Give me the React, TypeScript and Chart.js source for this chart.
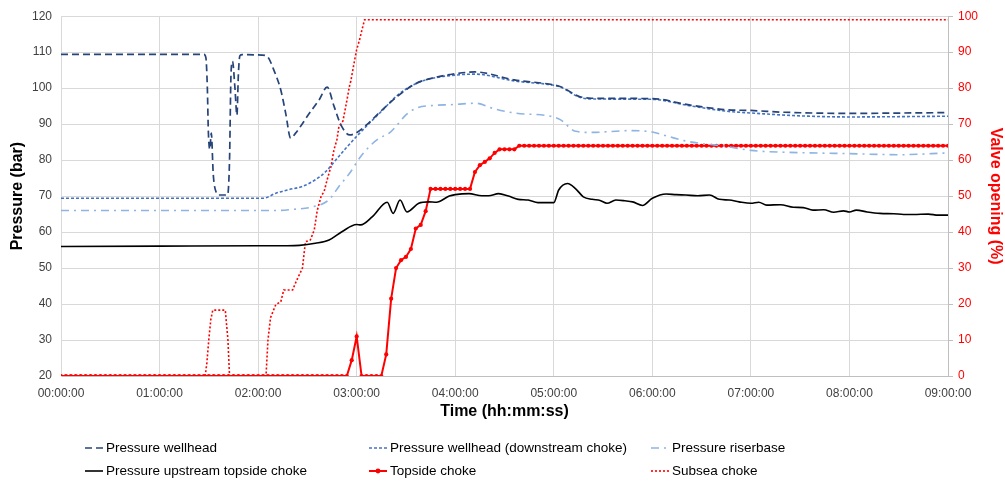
import { useEffect, useRef } from "react";
import { Chart, registerables } from "chart.js";

Chart.register(...registerables);

// ---- data (time in hours) ----
const timeTickLabels = [
  "00:00:00", "01:00:00", "02:00:00", "03:00:00", "04:00:00",
  "05:00:00", "06:00:00", "07:00:00", "08:00:00", "09:00:00",
];

const wellheadTime = [
  0, 1.45, 1.47, 1.485, 1.495, 1.51, 1.525, 1.545, 1.575, 1.6, 1.69, 1.71, 1.725,
  1.74, 1.765, 1.785, 1.8, 1.815, 1.84, 2.04, 2.1, 2.16, 2.23, 2.28, 2.33, 2.38,
  2.52, 2.62, 2.7, 2.77, 2.84, 2.93, 2.99, 3.1, 3.26, 3.43, 3.61, 3.78, 3.95, 4.2,
  4.6, 5.0, 5.07, 5.26, 5.38, 6.0, 6.36, 6.75, 7.0, 7.34, 8.0, 9.0,
];
const wellheadPressure = [
  109.4, 109.4, 108.5, 100, 88, 83, 87.5, 76, 71, 70.3, 70.3, 80, 104,
  107.5, 100, 92.5, 104, 109, 109.3, 109.2, 108.6, 105, 99.5, 93, 86.1, 87.5,
  93, 96.8, 100.3, 95, 89.8, 87, 87.5, 89.8, 94, 98.1, 101.4, 102.9, 103.8, 104.5,
  102.3, 100.9, 100.4, 97.7, 97.2, 97.1, 95.4, 94, 93.8, 93.3, 93, 93.2,
];

const downstreamTime = [
  0, 2.05, 2.18, 2.31, 2.45, 2.59, 2.69, 2.79, 2.89, 3.0, 3.13, 3.26, 3.4, 3.61,
  3.78, 3.95, 4.2, 4.6, 5.0, 5.07, 5.26, 5.38, 6.0, 6.36, 6.75, 7.0, 7.5, 8.0, 9.0,
];
const downstreamPressure = [
  69.4, 69.4, 70.8, 71.8, 72.7, 74.7, 76.9, 80.1, 83.3, 86.6, 90.3, 93.8, 97.7, 101.4,
  102.8, 103.5, 103.9, 102.0, 100.8, 100.3, 97.5, 97.0, 96.9, 95.2, 93.6, 93.1, 92.3, 92.0, 92.2,
];

const riserbaseTime = [
  0, 2.2, 2.35, 2.55, 2.72, 2.82, 2.93, 3.03, 3.13, 3.23, 3.33, 3.4, 3.5, 3.61, 3.78,
  3.95, 4.21, 4.4, 4.6, 5.0, 5.07, 5.22, 5.38, 5.77, 6.0, 6.16, 6.36, 6.75, 7.0, 7.34,
  8.0, 8.5, 9.0,
];
const riserbasePressure = [
  66, 66, 66.3, 67, 69, 72.7, 76.4, 80.6, 83.8, 86.1, 87.5, 89.4, 92.6, 94.5, 95.2,
  95.4, 95.8, 94.2, 93.1, 92, 91.2, 88, 87.7, 88.2, 87.8, 86.6, 85.2, 83.8, 82.7, 82.2,
  81.8, 81.5, 82,
];

const upstreamTime = [
  0, 1.0, 2.0, 2.3, 2.42, 2.58, 2.72, 2.85, 3.0, 3.04, 3.16, 3.31, 3.37, 3.44, 3.51,
  3.63, 3.73, 3.81, 3.84, 3.94, 4.0, 4.14, 4.27, 4.34, 4.44, 4.54, 4.64, 4.74, 4.84,
  5.0, 5.05, 5.14, 5.22, 5.3, 5.39, 5.47, 5.54, 5.63, 5.72, 5.8, 5.9, 6.0, 6.14, 6.24,
  6.34, 6.46, 6.58, 6.68, 6.78, 6.88, 7.0, 7.08, 7.16, 7.3, 7.43, 7.53, 7.63, 7.74,
  7.84, 7.94, 8.0, 8.07, 8.18, 8.31, 8.45, 8.55, 8.65, 8.8, 8.9, 9.0,
];
const upstreamPressure = [
  56, 56.1, 56.2, 56.2, 56.3, 56.9, 57.8, 60.1, 62.1, 62, 64.3, 68.3, 65.2, 68.9, 65.6,
  68, 68.4, 68.3, 68.5, 70, 70.4, 70.7, 70.1, 70.1, 70.7, 70, 69.1, 68.9, 68.2,
  68.2, 71.7, 73.5, 72.1, 69.8, 69.1, 68.8, 68, 68.9, 68.7, 68.4, 67.4, 69.4, 70.6, 70.4,
  70.3, 70.1, 70.3, 69.1, 68.9, 68.4, 68, 68.3, 67.5, 67.6, 66.9, 66.8, 66.1, 66.2,
  65.5, 65.9, 65.6, 66.1, 65.6, 65.2, 65.1, 64.9, 64.9, 65.0, 64.7, 64.7,
];

// Topside choke is logged every 3 minutes
const topsideSampleHours = 0.05;
const topsideOpening = [
  0, 0, 0, 0, 0, 0, 0, 0, 0, 0, 0, 0, 0, 0, 0, 0, 0, 0, 0, 0,
  0, 0, 0, 0, 0, 0, 0, 0, 0, 0, 0, 0, 0, 0, 0, 0, 0, 0, 0, 0,
  0, 0, 0, 0, 0, 0, 0, 0, 0, 0, 0, 0, 0, 0, 0, 0, 0, 0, 0, 4.4,
  11, 0, 0, 0, 0, 0, 6, 21.5, 30, 32.2, 33.1, 35.3, 41, 42, 45.8, 52, 52, 52, 52, 52,
  52, 52, 52, 52, 56.7, 58.6, 59.5, 60.5, 62, 63, 63, 63, 63, 64, 64, 64, 64, 64, 64, 64,
  64, 64, 64, 64, 64, 64, 64, 64, 64, 64, 64, 64, 64, 64, 64, 64, 64, 64, 64, 64,
  64, 64, 64, 64, 64, 64, 64, 64, 64, 64, 64, 64, 64, 64, 64, 64, 64, 64, 64, 64,
  64, 64, 64, 64, 64, 64, 64, 64, 64, 64, 64, 64, 64, 64, 64, 64, 64, 64, 64, 64,
  64, 64, 64, 64, 64, 64, 64, 64, 64, 64, 64, 64, 64, 64, 64, 64, 64, 64, 64, 64,
  64,
];

const subseaTime = [
  0, 1.463, 1.48, 1.5, 1.52, 1.54, 1.667, 1.694, 1.71, 2.08, 2.1, 2.126, 2.18, 2.23,
  2.26, 2.35, 2.39, 2.45, 2.48, 2.53, 2.57, 2.6, 2.64, 2.67, 2.7, 2.74, 2.77, 2.8,
  2.82, 2.86, 2.89, 2.93, 2.94, 2.98, 3.0, 3.03, 3.05, 3.08, 9.0,
];
const subseaOpening = [
  0, 0, 3.7, 10.2, 15.7, 18.3, 18.3, 10, 0, 0, 10, 16.2, 19.9, 20.6,
  23.9, 23.9, 26.5, 30, 37.3, 37.8, 40.6, 46, 50, 51.3, 54.5, 58.3, 62.9, 65.7,
  69.4, 70.8, 75, 81, 81.9, 87.9, 90.7, 93.5, 95.8, 99, 99,
];

const seriesNames = [
  "Pressure wellhead",
  "Pressure wellhead (downstream choke)",
  "Pressure riserbase",
  "Pressure upstream topside choke",
  "Topside choke",
  "Subsea choke",
];

const pair = (t: number[], v: number[]) => t.map((x, i) => ({ x, y: v[i] }));

const FONT = "'Liberation Sans', Arial, sans-serif";
const TICK_COLOR = "#404040";

// Legend laid out in three fixed columns below the axis title
const columnLegend = {
  id: "columnLegend",
  afterDraw(chart: any) {
    const ctx = chart.ctx as CanvasRenderingContext2D;
    const colX = [85, 369, 651];
    const rowY = [448, 471];
    const sampleW = 18;
    ctx.save();
    ctx.font = `13.5px ${FONT}`;
    ctx.textBaseline = "middle";
    ctx.fillStyle = "#000";
    chart.data.datasets.forEach((ds: any, i: number) => {
      const x = colX[i % 3];
      const y = rowY[Math.floor(i / 3)];
      ctx.save();
      ctx.strokeStyle = ds.borderColor;
      ctx.lineWidth = ds.borderWidth;
      ctx.setLineDash(ds.borderDash || []);
      ctx.beginPath();
      ctx.moveTo(x, y);
      ctx.lineTo(x + sampleW, y);
      ctx.stroke();
      if (ds.pointRadius > 0) {
        ctx.setLineDash([]);
        ctx.fillStyle = ds.borderColor;
        ctx.beginPath();
        ctx.arc(x + sampleW / 2, y, ds.pointRadius + 0.3, 0, Math.PI * 2);
        ctx.fill();
      }
      ctx.restore();
      ctx.fillText(ds.label, x + sampleW + 3, y);
    });
    ctx.restore();
  },
};

export default function App() {
  const canvasRef = useRef<HTMLCanvasElement | null>(null);

  useEffect(() => {
    if (!canvasRef.current) return;
    Chart.defaults.font.family = FONT;

    const chart = new Chart(canvasRef.current, {
      type: "line",
      data: {
        datasets: [
          {
            label: seriesNames[0],
            data: pair(wellheadTime, wellheadPressure),
            borderColor: "#264478",
            borderWidth: 1.7,
            borderDash: [7, 4],
            pointRadius: 0,
            cubicInterpolationMode: "monotone",
            yAxisID: "y",
          },
          {
            label: seriesNames[1],
            data: pair(downstreamTime, downstreamPressure),
            borderColor: "#4472c4",
            borderWidth: 1.6,
            borderDash: [3, 2],
            pointRadius: 0,
            cubicInterpolationMode: "monotone",
            yAxisID: "y",
          },
          {
            label: seriesNames[2],
            data: pair(riserbaseTime, riserbasePressure),
            borderColor: "#8eb4e3",
            borderWidth: 1.6,
            borderDash: [8, 5, 2, 5],
            pointRadius: 0,
            cubicInterpolationMode: "monotone",
            yAxisID: "y",
          },
          {
            label: seriesNames[3],
            data: pair(upstreamTime, upstreamPressure),
            borderColor: "#000000",
            borderWidth: 1.6,
            pointRadius: 0,
            cubicInterpolationMode: "monotone",
            yAxisID: "y",
          },
          {
            label: seriesNames[4],
            data: topsideOpening.map((v, i) => ({ x: i * topsideSampleHours, y: v })),
            borderColor: "#ff0000",
            backgroundColor: "#ff0000",
            borderWidth: 2,
            pointRadius: 2.1,
            pointBorderWidth: 0,
            pointBackgroundColor: "#ff0000",
            yAxisID: "y1",
          },
          {
            label: seriesNames[5],
            data: pair(subseaTime, subseaOpening),
            borderColor: "#ff0000",
            borderWidth: 1.6,
            borderDash: [2, 2],
            pointRadius: 0,
            yAxisID: "y1",
          },
        ],
      },
      options: {
        responsive: false,
        animation: false,
        parsing: true,
        layout: { padding: { top: 16, bottom: 61, left: 0, right: 0 } },
        plugins: {
          legend: { display: false },
          tooltip: { enabled: false },
        },
        scales: {
          x: {
            type: "linear",
            min: 0,
            max: 9,
            ticks: {
              stepSize: 1,
              autoSkip: false,
              maxRotation: 0,
              color: TICK_COLOR,
              font: { size: 12 },
              padding: 10,
              callback: (v: any) => timeTickLabels[Math.round(Number(v))],
            },
            grid: { color: "#d9d9d9", drawTicks: false },
            border: { color: "#bfbfbf" },
            title: {
              display: true,
              text: "Time (hh:mm:ss)",
              color: "#000",
              font: { size: 16, weight: "bold" },
              padding: { top: 0, bottom: 0 },
            },
            afterFit: (s: any) => {
              s.height = 45;
            },
          },
          y: {
            position: "left",
            min: 20,
            max: 120,
            ticks: { stepSize: 10, color: TICK_COLOR, font: { size: 12 }, padding: 9 },
            grid: { color: "#d9d9d9", drawTicks: false },
            border: { color: "#d9d9d9" },
            title: {
              display: true,
              text: "Pressure (bar)",
              color: "#000",
              font: { size: 16, weight: "bold" },
              padding: { top: 8, bottom: 0 },
            },
            afterFit: (s: any) => {
              s.width = 61;
            },
          },
          y1: {
            position: "right",
            min: 0,
            max: 100,
            ticks: { stepSize: 10, color: "#ff0000", font: { size: 12 }, padding: 5 },
            grid: { drawOnChartArea: false, drawTicks: true, tickLength: 5, color: "#bfbfbf" },
            border: { color: "#bfbfbf" },
            title: {
              display: true,
              text: "Valve opening (%)",
              color: "#ff0000",
              font: { size: 16, weight: "bold" },
              padding: { top: 0, bottom: 0 },
            },
            afterFit: (s: any) => {
              s.width = 57;
            },
          },
        },
      },
      plugins: [columnLegend],
    } as any);

    return () => chart.destroy();
  }, []);

  return (
    <div style={{ position: "absolute", left: 0, top: 0, width: 1005, height: 482, background: "#fff" }}>
      <canvas ref={canvasRef} width={1005} height={482} style={{ width: 1005, height: 482 }} />
    </div>
  );
}
